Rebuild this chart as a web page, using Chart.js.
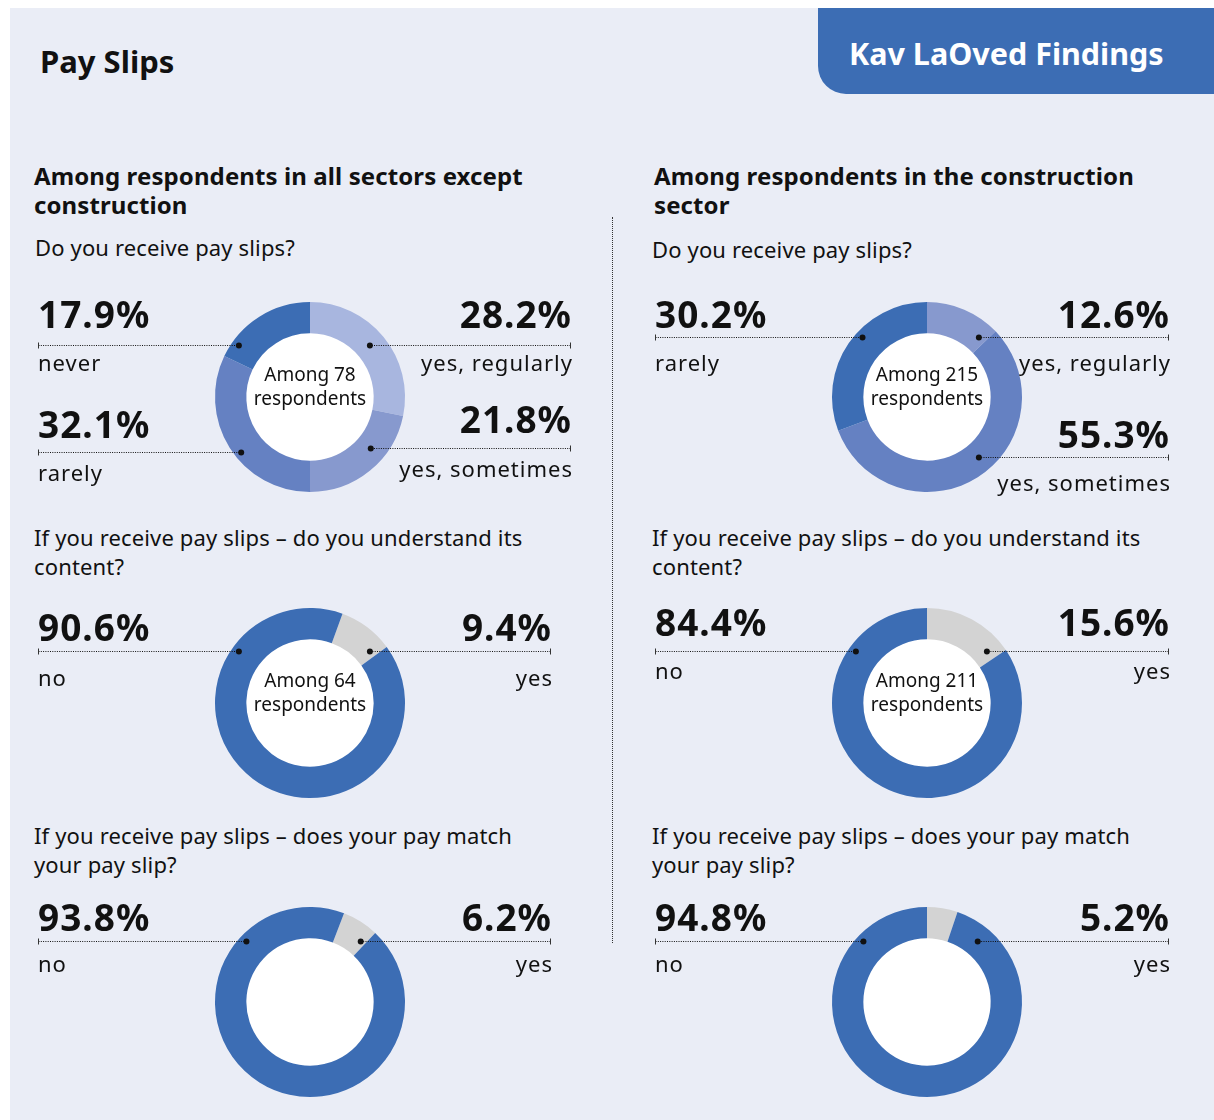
<!DOCTYPE html>
<html>
<head>
<meta charset="utf-8">
<script src="https://cdn.jsdelivr.net/npm/chart.js@4.4.1/dist/chart.umd.min.js"></script>
<style>
body { margin: 0; background: #fff; font-family: "Noto Sans", sans-serif; color: #111; }
#wrap { position: relative; width: 1214px; height: 1120px; overflow: hidden; }
#panel { position: absolute; left: 10px; top: 8px; right: 0; bottom: 0; background: #EAEDF6; }
#banner { position: absolute; left: 818px; top: 8px; width: 396px; height: 86px; background: #3C6DB4;
  border-bottom-left-radius: 28px; color: #fff; font-weight: 700; font-size: 30.5px; line-height: 86px; }
#banner span { position: absolute; left: 31px; top: 2px; }
.t { position: absolute; white-space: nowrap; }
.title { font-weight: 700; font-size: 31px; line-height: 40px; }
.head { font-weight: 700; font-size: 24px; line-height: 29px; letter-spacing: 0.1px; }
.q { font-size: 22px; line-height: 29px; letter-spacing: 0.15px; }
.pct { font-weight: 700; font-size: 37px; line-height: 37px; letter-spacing: 1px; }
.sub { font-size: 22px; line-height: 22px; letter-spacing: 1px; }
.mid { font-size: 19px; line-height: 24px; text-align: center; width: 160px; }
canvas { position: absolute; }
#sep { position: absolute; left: 612px; top: 217px; height: 726px; border-left: 1px dotted #333; }
</style>
</head>
<body>
<div id="wrap">
  <div id="panel"></div>
  <div id="banner"><span>Kav LaOved Findings</span></div>
  <div id="sep"></div>
</div>
<script>
// text
const pageTitle = "Pay Slips";
const sectorTitles = ["Among respondents in all sectors except<br>construction", "Among respondents in the construction<br>sector"];
const questions = [
    "Do you receive pay slips?",
    "If you receive pay slips – do you understand its<br>content?",
    "If you receive pay slips – does your pay match<br>your pay slip?"
];

// data
const receiveLabelsOther = ["yes, regularly", "yes, sometimes", "rarely", "never"];
const receiveOther = [28.2, 21.8, 32.1, 17.9];
const receiveLabelsBuild = ["yes, regularly", "yes, sometimes", "rarely"];
const receiveBuild = [12.6, 55.3, 30.2];
const yesNo = ["yes", "no"];
const understandOther = [9.4, 90.6];
const understandBuild = [15.6, 84.4];
const matchOther = [6.2, 93.8];
const matchBuild = [5.2, 94.8];
const respondents = [78, 215, 64, 211, null, null];

// colours
const blues4 = ["#A8B6DF", "#8799CE", "#6581C2", "#3C6DB4"];
const blues3 = ["#8799CE", "#6581C2", "#3C6DB4"];
const yesNoColors = ["#D3D3D3", "#3C6DB4"];

const wrap = document.getElementById("wrap");

function addText(cls, html, left, top, opts = {}) {
    const d = document.createElement("div");
    d.className = "t " + cls;
    d.innerHTML = html;
    if (opts.right !== undefined) d.style.right = (1214 - opts.right) + "px";
    else d.style.left = left + "px";
    d.style.top = top + "px";
    wrap.append(d);
    return d;
}

addText("title", pageTitle, 40, 41);
addText("head", sectorTitles[0], 34, 161);
addText("head", sectorTitles[1], 654, 161);
addText("q", questions[0], 35, 233);
addText("q", questions[0], 652, 235);
addText("q", questions[1], 34, 523);
addText("q", questions[1], 652, 523);
addText("q", questions[2], 34, 821);
addText("q", questions[2], 652, 821);

// white hole + leader lines drawn from the arc geometry
const leaderPlugin = {
    id: "leaders",
    beforeDatasetsDraw(chart) {
        const ctx = chart.ctx;
        const p = chart.getDatasetMeta(0).data[0].getProps(["x", "y", "innerRadius"], true);
        ctx.save();
        ctx.fillStyle = "#fff";
        ctx.beginPath();
        ctx.arc(p.x, p.y, p.innerRadius + 1, 0, Math.PI * 2);
        ctx.fill();
        ctx.restore();
    },
    afterDatasetsDraw(chart, args, opts) {
        const ctx = chart.ctx;
        const arc = chart.getDatasetMeta(0).data[0];
        const p = arc.getProps(["x", "y", "innerRadius", "outerRadius"], true);
        const w = p.outerRadius - p.innerRadius;
        ctx.save();
        for (const l of opts.items) {
            const r = p.innerRadius + w * (l.side === "left" ? 0.78 : 0.5);
            const y = Math.round(p.y + l.dy) + 0.5;
            const dx = Math.sqrt(r * r - l.dy * l.dy);
            const dotX = l.side === "left" ? p.x - dx : p.x + dx;
            const endX = (l.side === "left" ? opts.lineL : opts.lineR) + 0.5;
            ctx.strokeStyle = "#111";
            ctx.lineWidth = 1;
            ctx.setLineDash([1, 1.3]);
            ctx.beginPath();
            ctx.moveTo(endX, y);
            ctx.lineTo(dotX, y);
            ctx.stroke();
            ctx.setLineDash([]);
            ctx.strokeStyle = "#333";
            ctx.beginPath();
            ctx.moveTo(endX, y - 3);
            ctx.lineTo(endX, y + 3);
            ctx.stroke();
            ctx.fillStyle = "#111";
            ctx.beginPath();
            ctx.arc(dotX, y, 3, 0, Math.PI * 2);
            ctx.fill();
        }
        ctx.restore();
    }
};

const charts = [
    { values: receiveOther, labels: receiveLabelsOther, colors: blues4, rotation: 0, cx: 310, cy: 397, lineL: 38, lineR: 570,
      items: [
          { i: 3, side: "left", dy: -52, up: 50, down: 20 },
          { i: 2, side: "left", dy: 55, up: 47, down: 23 },
          { i: 0, side: "right", dy: -52, up: 50, down: 20 },
          { i: 1, side: "right", dy: 51, up: 48, down: 23 }
      ] },
    { values: receiveBuild, labels: receiveLabelsBuild, colors: blues3, rotation: 0, cx: 927, cy: 397, lineL: 655, lineR: 1168,
      items: [
          { i: 2, side: "left", dy: -60, up: 42, down: 28 },
          { i: 0, side: "right", dy: -60, up: 42, down: 28 },
          { i: 1, side: "right", dy: 60, up: 42, down: 28 }
      ] },
    { values: understandOther, labels: yesNo, colors: yesNoColors, rotation: 20, cx: 310, cy: 703, lineL: 38, lineR: 550,
      items: [
          { i: 1, side: "left", dy: -52, up: 43, down: 29 },
          { i: 0, side: "right", dy: -52, up: 43, down: 29 }
      ] },
    { values: understandBuild, labels: yesNo, colors: yesNoColors, rotation: 0, cx: 927, cy: 703, lineL: 655, lineR: 1168,
      items: [
          { i: 1, side: "left", dy: -52, up: 48, down: 22 },
          { i: 0, side: "right", dy: -52, up: 48, down: 22 }
      ] },
    { values: matchOther, labels: yesNo, colors: yesNoColors, rotation: 21, cx: 310, cy: 1002, lineL: 38, lineR: 550,
      items: [
          { i: 1, side: "left", dy: -61, up: 43, down: 25 },
          { i: 0, side: "right", dy: -61, up: 43, down: 25 }
      ] },
    { values: matchBuild, labels: yesNo, colors: yesNoColors, rotation: 0, cx: 927, cy: 1002, lineL: 655, lineR: 1168,
      items: [
          { i: 1, side: "left", dy: -61, up: 43, down: 25 },
          { i: 0, side: "right", dy: -61, up: 43, down: 25 }
      ] }
];

charts.forEach((c, n) => {
    const W = 560, H = 220;
    const left = c.cx - W / 2, top = c.cy - H / 2;
    const canvas = document.createElement("canvas");
    canvas.width = W;
    canvas.height = H;
    canvas.style.left = left + "px";
    canvas.style.top = top + "px";
    wrap.append(canvas);

    new Chart(canvas.getContext("2d"), {
        type: "doughnut",
        data: {
            labels: c.labels,
            datasets: [{ data: c.values, backgroundColor: c.colors, borderWidth: 0 }]
        },
        options: {
            responsive: false,
            animation: false,
            devicePixelRatio: 1,
            cutout: "67%",
            rotation: c.rotation,
            layout: { padding: { top: 15, bottom: 15 } },
            plugins: {
                legend: { display: false },
                tooltip: { enabled: false },
                leaders: { items: c.items, lineL: c.lineL - left, lineR: c.lineR - left }
            }
        },
        plugins: [leaderPlugin]
    });

    // value and category labels
    for (const l of c.items) {
        const lineY = c.cy + l.dy;
        const pct = c.values[l.i].toFixed(1) + "%";
        if (l.side === "left") {
            addText("pct", pct, c.lineL, lineY - l.up);
            addText("sub", c.labels[l.i], c.lineL, lineY + l.down - 14);
        } else {
            addText("pct", pct, 0, lineY - l.up, { right: c.lineR + 2 });
            addText("sub", c.labels[l.i], 0, lineY + l.down - 14, { right: c.lineR + 3 });
        }
    }

    if (respondents[n]) {
        addText("mid", "Among " + respondents[n] + "<br>respondents", c.cx - 80, c.cy - 35);
    }
});
</script>
</body>
</html>
